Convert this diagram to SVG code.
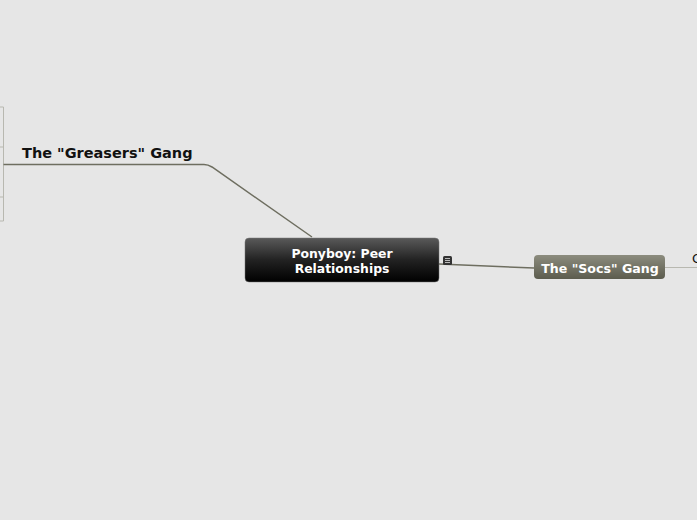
<svg xmlns="http://www.w3.org/2000/svg" width="697" height="520" viewBox="0 0 697 520">
<defs>
<linearGradient id="gCentral" x1="0" y1="0" x2="0" y2="1">
<stop offset="0" stop-color="#5a5a5a"/>
<stop offset="0.5" stop-color="#222"/>
<stop offset="1" stop-color="#000"/>
</linearGradient>
<linearGradient id="gSocs" x1="0" y1="0" x2="0" y2="1">
<stop offset="0" stop-color="#8c8c7e"/>
<stop offset="1" stop-color="#5c5c4e"/>
</linearGradient>
<style>
.lbl{font-family:"DejaVu Sans",Verdana,sans-serif;font-weight:bold}
.conn{fill:none;stroke:#6e6e60;stroke-width:1.5}
.thin{fill:none;stroke:#b8b8b0;stroke-width:1}
</style>
</defs>
<rect width="697" height="520" fill="#e6e6e6"/>
<g id="connectors">
<path class="conn" d="M14 164.5 H204 Q208 164.5 212 167 L312 237"/>
<path class="conn" d="M439 264 L534 268"/>
<path class="thin" d="M665 267.5 H697"/>
<path class="thin" d="M3.5 107 V221 M0 107 H3.5 M0 147 H3.5 M0 197 H3.5 M0 221 H3.5"/>
<path d="M3.5 164.5 H14" stroke="#6e6e60" stroke-width="1.5"/>
</g>
<g id="greasers">
<text class="lbl" x="22" y="157.5" font-size="14.5" fill="#111">The "Greasers" Gang</text>
</g>
<g id="central">
<rect x="245" y="238" width="194" height="44" rx="4" fill="url(#gCentral)" stroke="#777" stroke-width="0.5"/>
<text class="lbl" x="342" y="258" font-size="12.4" fill="#fff" text-anchor="middle">Ponyboy: Peer</text>
<text class="lbl" x="342" y="273" font-size="12.4" fill="#fff" text-anchor="middle">Relationships</text>
<rect x="443" y="256" width="9" height="9" rx="1.5" fill="#333"/>
<path d="M445 258.5 H450 M445 260.5 H450 M445 262.5 H450" stroke="#ddd" stroke-width="0.8"/>
</g>
<g id="socs">
<rect x="534" y="255" width="131" height="24" rx="4" fill="url(#gSocs)"/>
<text class="lbl" x="600" y="272.5" font-size="12.6" fill="#fff" text-anchor="middle">The "Socs" Gang</text>
</g>
<g id="offscreen">
<text x="692" y="263" font-family="DejaVu Sans,sans-serif" font-size="13" fill="#111">C</text>
</g>
</svg>
